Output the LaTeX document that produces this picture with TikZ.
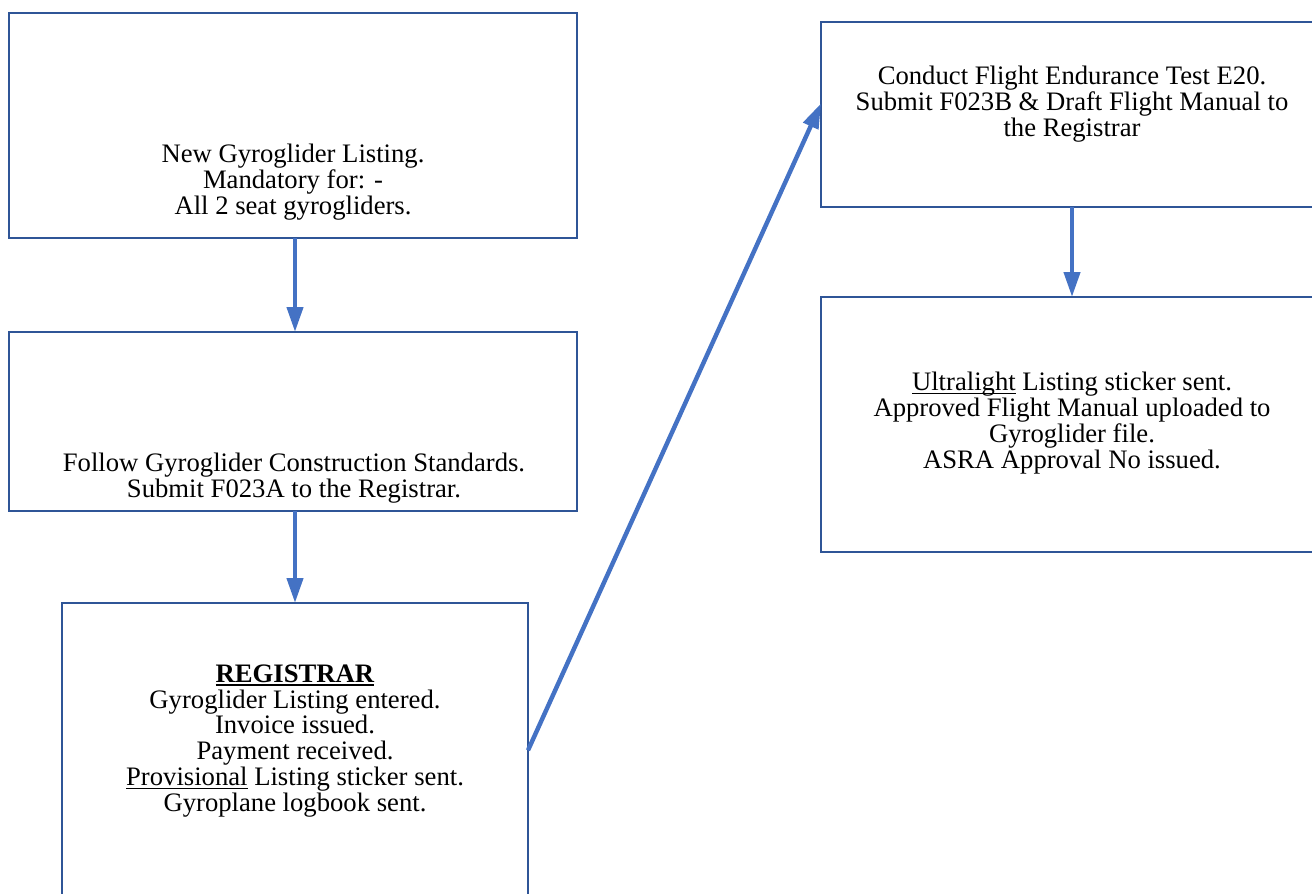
\documentclass[tikz,border=0pt]{standalone}
\usepackage{fontspec}
\setmainfont{Liberation Serif}
\usetikzlibrary{arrows.meta}
\definecolor{boxblue}{HTML}{2F5597}
\definecolor{arrowblue}{HTML}{4472C4}
\newcommand{\myul}[2][0.7pt]{\setbox0\hbox{#2}\rlap{\rule[-1.9pt]{\wd0}{#1}}\box0\relax}
\begin{document}
\begin{tikzpicture}[x=0.54pt,y=-0.54pt,
  box/.style 2 args={draw=boxblue,line width=1.1pt,inner sep=0pt,outer sep=0pt,
    minimum width={#1*0.54pt},minimum height={#2*0.54pt}},
  textblk/.style={align=center,inner sep=0pt,font=\fontsize{14.4}{14}\selectfont},
  flow/.style={draw=arrowblue,line width=2.4pt,-{Triangle[length=13.5pt,width=8.6pt]}}]
\useasboundingbox (0,0) rectangle (1312,893);
% boxes
\node[box={568}{225}] (b1) at (293,125.5) {};
\node[box={568}{179}] (b2) at (293,421.5) {};
\node[box={466}{302}] (b3) at (295,754) {};
\node[box={502}{185}] (b4) at (1072,114.5) {};
\node[box={502}{255}] (b5) at (1072,424.5) {};
% texts
\node[textblk] (t1) at (293,182) {New Gyroglider Listing.\\Mandatory for: -\\All 2 seat gyrogliders.};
\node[textblk] (t2) at (294,478) {Follow Gyroglider Construction Standards.\\Submit F023A to the Registrar.};
\node[textblk] (t3) at (295,741) {\myul[1pt]{\textbf{REGISTRAR}}\\Gyroglider Listing entered.\\Invoice issued.\\Payment received.\\\myul{Provisional} Listing sticker sent.\\Gyroplane logbook sent.};
\node[textblk] (t4) at (1072,104) {Conduct Flight Endurance Test E20.\\Submit F023B \& Draft Flight Manual to\\the Registrar};
\node[textblk] (t5) at (1072,423) {\myul{Ultralight} Listing sticker sent.\\Approved Flight Manual uploaded to\\Gyroglider file.\\ASRA Approval No issued.};
% connectors
\draw[flow] (b3.north |- b1.south) -- (b3.north |- b2.north);
\draw[flow] (b3.north |- b2.south) -- (b3.north);
\draw[flow] ([yshift=2pt]b3.east) -- ([yshift=6pt]b4.west);
\draw[flow] (b4.south) -- (b5.north);
\end{tikzpicture}
\end{document}
